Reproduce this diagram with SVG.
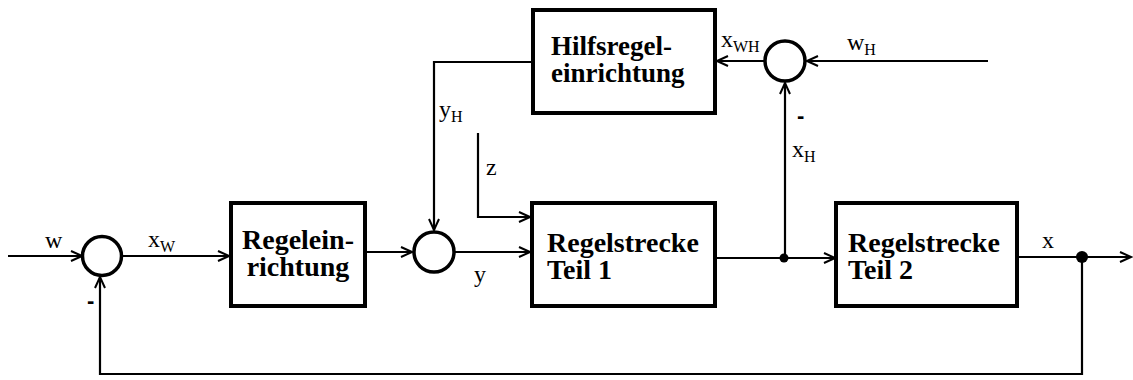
<svg xmlns="http://www.w3.org/2000/svg" width="1133" height="380" viewBox="0 0 1133 380">
<style>
.box{fill:#fff;stroke:#000;stroke-width:4}
.sum{fill:#fff;stroke:#000;stroke-width:3.5}
.ln{fill:none;stroke:#000;stroke-width:2.2}
.bt{font-family:"Liberation Serif","Times New Roman",serif;font-weight:bold;font-size:28px;fill:#000}
.bs{font-size:27px}
.lb{font-family:"Liberation Serif","Times New Roman",serif;font-size:24px;fill:#000}
.sb{font-size:16px}
.mn{font-family:"Liberation Sans",sans-serif;font-weight:bold;font-size:22px;fill:#000}
</style>
<defs>
<marker id="ar" markerWidth="14" markerHeight="12" refX="12" refY="6" orient="auto" markerUnits="userSpaceOnUse">
<path d="M1,1 L12,6 L1,11" fill="none" stroke="#000" stroke-width="2"/>
</marker>
</defs>
<g id="connectors">
<line class="ln" x1="8" y1="256" x2="82" y2="256" marker-end="url(#ar)"/>
<line class="ln" x1="122" y1="256" x2="229" y2="256" marker-end="url(#ar)"/>
<line class="ln" x1="367" y1="252" x2="412" y2="252" marker-end="url(#ar)"/>
<line class="ln" x1="455" y1="252" x2="530" y2="252" marker-end="url(#ar)"/>
<polyline class="ln" points="478,133 478,217 530,217" marker-end="url(#ar)"/>
<polyline class="ln" points="531,62 434,62 434,230" marker-end="url(#ar)"/>
<line class="ln" x1="717" y1="258" x2="835" y2="258" marker-end="url(#ar)"/>
<line class="ln" x1="785" y1="258" x2="785" y2="83" marker-end="url(#ar)"/>
<line class="ln" x1="988" y1="61" x2="807" y2="61" marker-end="url(#ar)"/>
<line class="ln" x1="764" y1="61" x2="717" y2="61" marker-end="url(#ar)"/>
<line class="ln" x1="1019" y1="257" x2="1131" y2="257" marker-end="url(#ar)"/>
<polyline class="ln" points="1082,257 1082,374 100,374 100,277" marker-end="url(#ar)"/>
<circle cx="784" cy="258" r="4.5" fill="#000"/>
<circle cx="1082" cy="257" r="6" fill="#000"/>
</g>
<g id="sum1"><circle class="sum" cx="102" cy="256" r="19.5"/></g>
<g id="sum2"><circle class="sum" cx="434" cy="252" r="20"/></g>
<g id="sum3"><circle class="sum" cx="785" cy="61" r="20"/></g>
<g id="regeleinrichtung">
<rect class="box" x="231" y="203" width="134" height="103"/>
<text class="bt" x="298" y="249" text-anchor="middle">Regelein-</text>
<text class="bt" x="298" y="276" text-anchor="middle">richtung</text>
</g>
<g id="teil1">
<rect class="box" x="532" y="203" width="183" height="103"/>
<text class="bt" x="547" y="252">Regelstrecke</text>
<text class="bt" x="547" y="279">Teil 1</text>
</g>
<g id="teil2">
<rect class="box" x="836" y="203" width="181" height="103"/>
<text class="bt" x="848" y="252">Regelstrecke</text>
<text class="bt" x="848" y="279">Teil 2</text>
</g>
<g id="hilfsregeleinrichtung">
<rect class="box" x="533" y="10" width="182" height="103"/>
<text class="bt bs" x="551" y="55">Hilfsregel-</text>
<text class="bt bs" x="551" y="82">einrichtung</text>
</g>
<g id="labels">
<text class="lb" x="45" y="248">w</text>
<text class="lb" x="148" y="247">x<tspan class="sb" dy="5">W</tspan></text>
<text class="mn" x="87" y="308">-</text>
<text class="lb" x="474" y="282">y</text>
<text class="lb" x="486" y="175">z</text>
<text class="lb" x="439" y="117">y<tspan class="sb" dy="5">H</tspan></text>
<text class="lb" x="721" y="47">x<tspan class="sb" dy="5">WH</tspan></text>
<text class="lb" x="847" y="50">w<tspan class="sb" dy="5">H</tspan></text>
<text class="mn" x="797" y="123">-</text>
<text class="lb" x="792" y="157">x<tspan class="sb" dy="5">H</tspan></text>
<text class="lb" x="1042" y="248">x</text>
</g>
</svg>
